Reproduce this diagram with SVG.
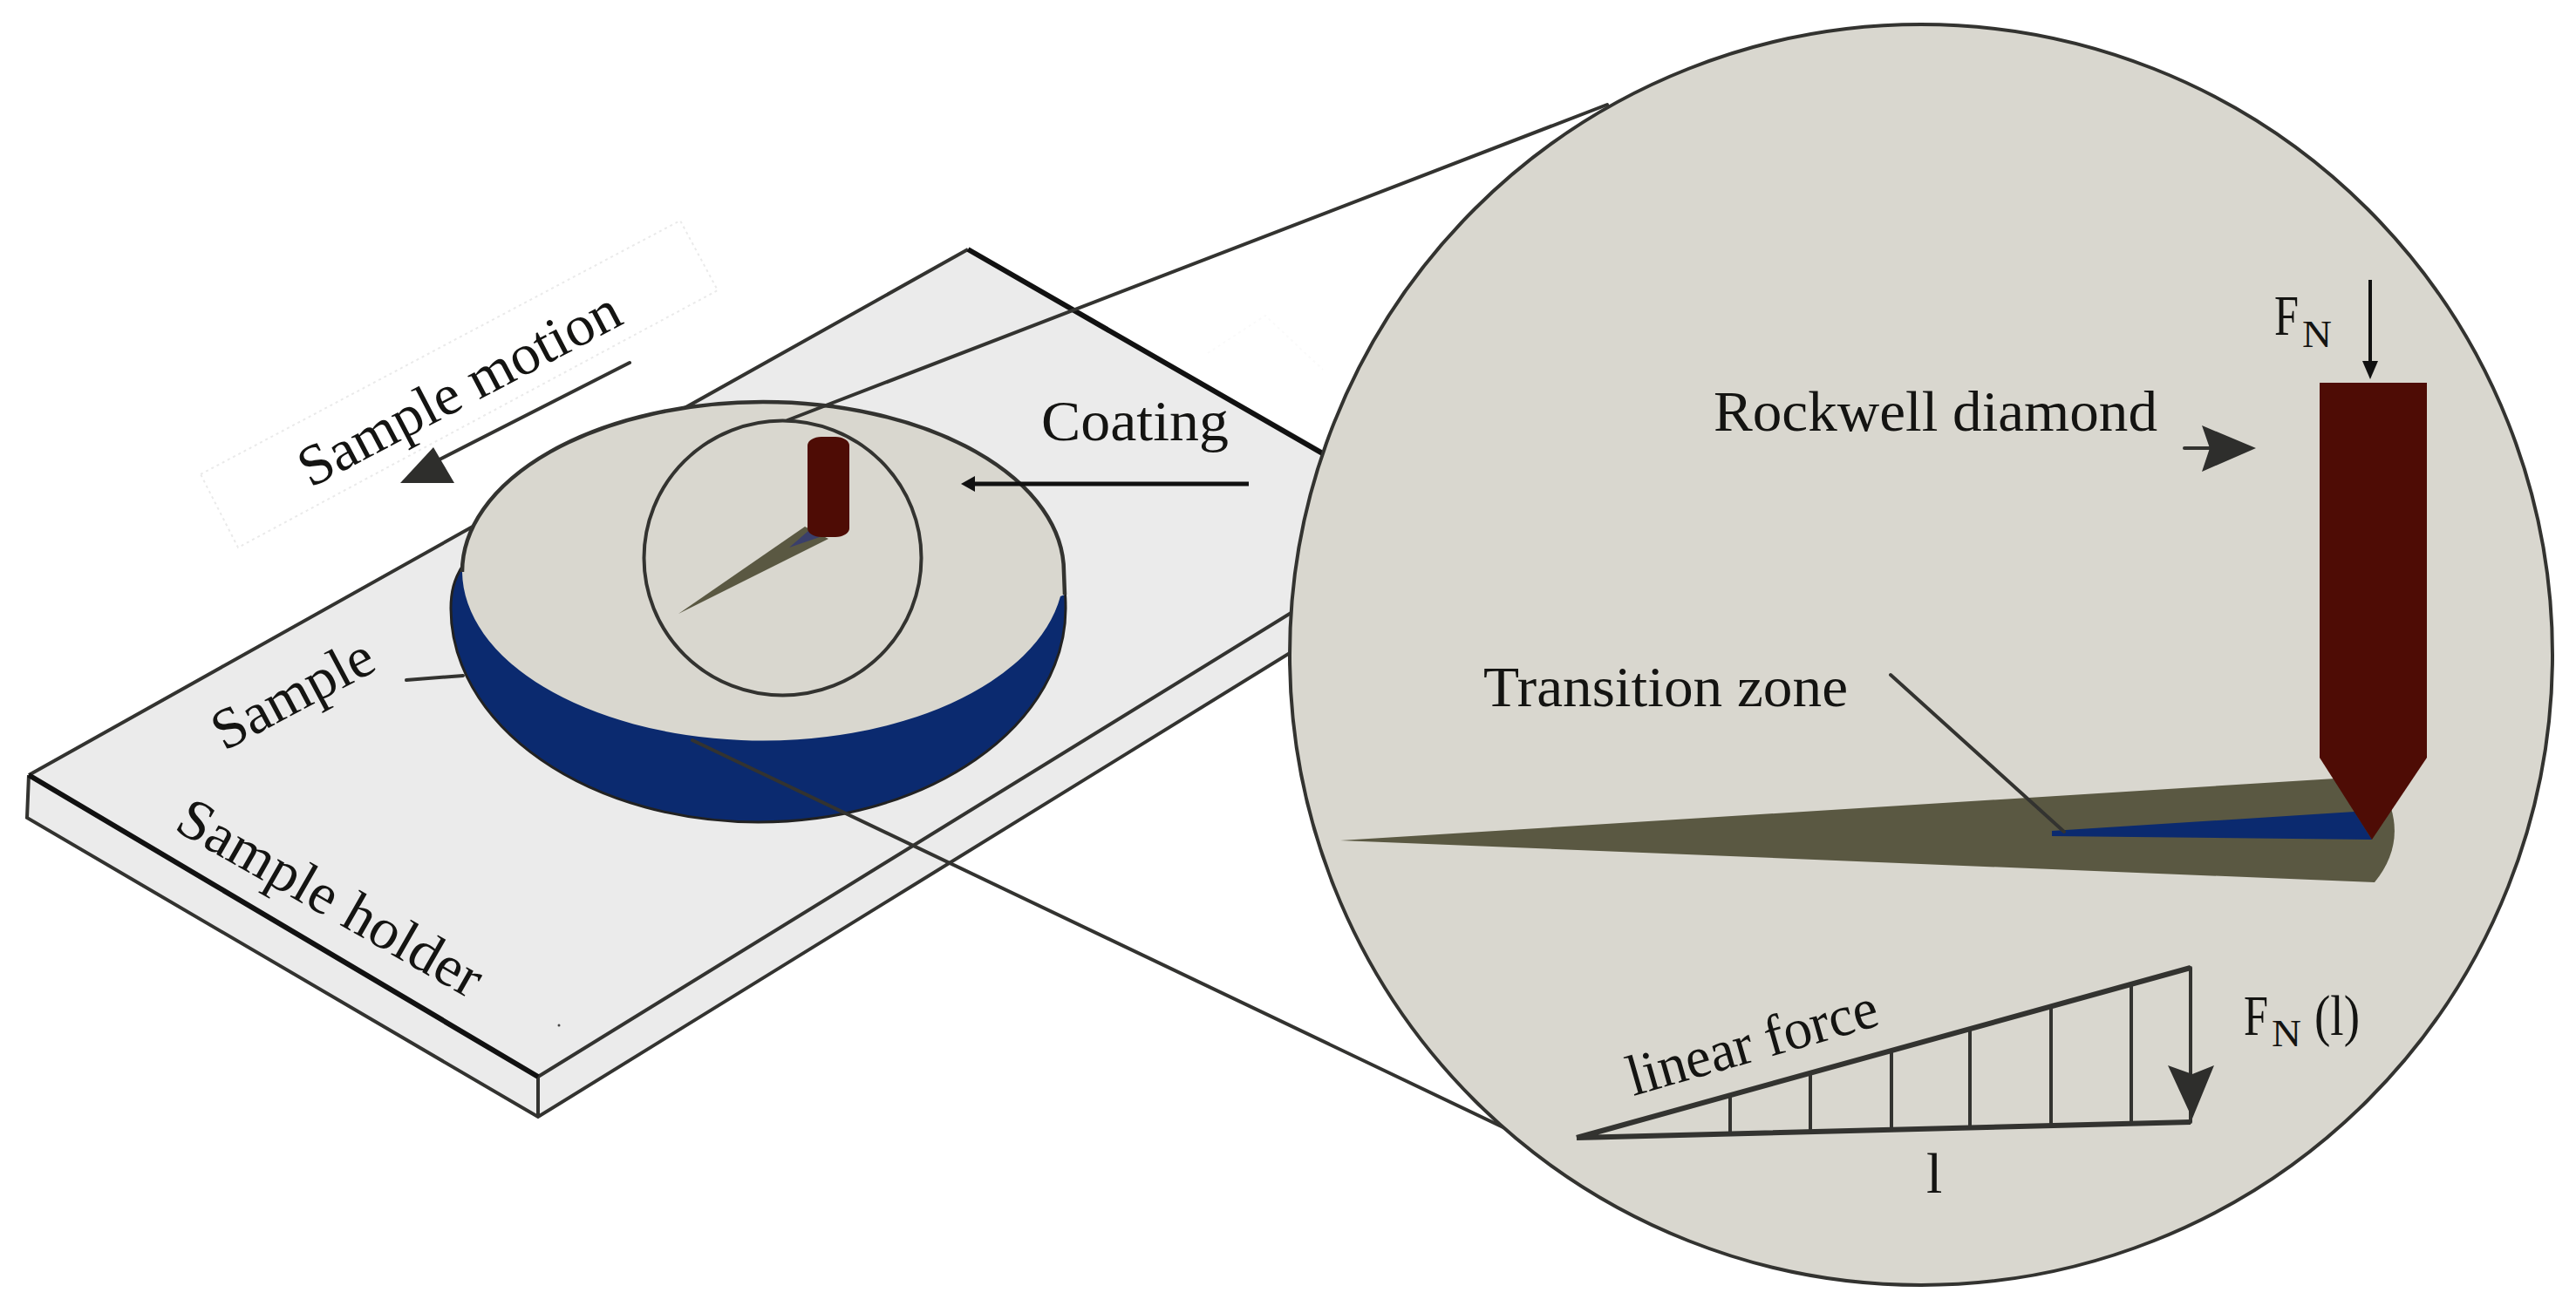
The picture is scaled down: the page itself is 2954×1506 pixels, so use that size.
<svg xmlns="http://www.w3.org/2000/svg" width="2954" height="1506" viewBox="0 0 2954 1506">
<style>
.t{font-family:"Liberation Serif","Times New Roman",serif;font-size:66px;fill:#141412}
.s{font-size:44px}
.l{fill:none;stroke:#333330;stroke-width:4;stroke-linecap:round}
.k{fill:none;stroke:#111;stroke-width:6}
.h{fill:#2e2e2c}
.d{fill:#d9d7cf}
.r{fill:#4e0c05}
.w{fill:#5a5842}
.b{fill:#0b2a6f}
.f{fill:none;stroke:#eaeaea;stroke-width:2;stroke-dasharray:3 4}
</style>
<rect width="2954" height="1506" fill="#fff"/>
<g id="faint-marks">
<polygon class="f" points="230,544 780,253 823,333 273,628"/>
<polyline class="f" style="stroke:#fafafa" points="1385,405 1451,362 1517,424"/>
</g>
<g id="sample-holder">
<polygon points="1110,286 1560,540 1560,654 617,1235 33,889" fill="#ebebeb"/>
<polygon points="33,889 617,1235 1560,654 1560,699 617,1281 31,938" fill="#ebebeb"/>
<path d="M33,889 L1110,286 M33,889 L31,938 L617,1281 L1560,699 M617,1235 L617,1281 M617,1235 L1560,654" fill="none" stroke="#333330" stroke-width="4"/>
<path class="k" d="M1110,286 L1560,545 M33,889 L617,1235" stroke-width="5"/>
<circle cx="641" cy="1176" r="1.5" fill="#444"/>
</g>
<g id="sample">
<path class="b" d="M531,648 C520,665 517,680 517,698 A352.5,245 0 0 0 1222,698 C1222,690 1222,684 1221,678 L1100,700 Z" stroke="#222" stroke-width="3"/>
<path class="d" d="M530,656 A345,195 0 0 1 1220,656 L1221,682 L1216,684 A345,195 0 0 1 530,656 Z"/>
<path d="M530,656 A345,195 0 0 1 1220,656 L1221,682" fill="none" stroke="#333330" stroke-width="4.5"/>
</g>
<g id="detail-mark">
<ellipse cx="897.500" cy="640" rx="159" ry="157.500" fill="none" stroke="#333330" stroke-width="4"/>
<polygon class="w" points="778,704 923,604 950,618"/>
<polygon points="905,628 928,608 940,616" fill="#3a3f6b"/>
<rect class="r" x="926" y="501" width="48" height="115" rx="16" ry="10"/>
</g>
<g id="connectors">
<path class="l" d="M903,482 L1843,120"/>
<path class="l" d="M794,849 L1730,1296"/>
<path class="l" d="M466,780 L531,775"/>
<path class="l" d="M722,416 L500,529"/>
<polygon class="h" points="459,554 521,554 497,513"/>
<path class="l" style="stroke:#111;stroke-width:5;stroke-linecap:butt" d="M1432,555 L1115,555"/>
<polygon points="1102,555 1118,546 1118,564" fill="#111"/>
</g>
<g id="detail-circle">
<ellipse class="d" cx="2203" cy="751" rx="724" ry="723" stroke="#333330" stroke-width="4"/>
</g>
<g id="scratch">
<path class="w" d="M1537,964 L2678,893 L2730,900 Q2765,960 2723,1012 Z"/>
<polygon class="b" points="2353,953 2700,931 2720,963 2353,959"/>
</g>
<g id="rockwell-diamond">
<polygon class="r" points="2660,439 2783,439 2783,869 2720,963 2660,869"/>
</g>
<g id="force-diagram">
<path d="M1808,1305 L2512,1110 M1808,1305 L2512,1287" fill="none" stroke="#333330" stroke-width="6"/>
<path class="l" d="M1984,1256 V1300 M2076,1231 V1298 M2169,1205 V1296 M2259,1180 V1293 M2352,1154 V1291 M2444,1129 V1289 M2512,1110 V1287"/>
<polygon class="h" points="2486,1222 2514,1232 2539,1222 2514,1283"/>
</g>
<g id="detail-connectors">
<path class="l" d="M2168,774 L2367,954"/>
<path class="l" d="M2505,514 L2535,514"/>
<polygon class="h" points="2525,488 2587,514 2525,541 2534,514"/>
<path d="M2718,321 V420" fill="none" stroke="#111" stroke-width="4"/>
<polygon points="2718,435 2709,414 2727,414" fill="#111"/>
</g>
<g id="labels">
<text class="t" x="0" y="0" transform="translate(356,560) rotate(-27.7)" textLength="408" lengthAdjust="spacingAndGlyphs">Sample motion</text>
<text class="t" x="0" y="0" transform="translate(257,862) rotate(-28)" textLength="201" lengthAdjust="spacingAndGlyphs">Sample</text>
<text class="t" x="0" y="0" transform="translate(198,951) rotate(29.8)" textLength="392" lengthAdjust="spacingAndGlyphs">Sample holder</text>
<text class="t" x="1194" y="505" textLength="215" lengthAdjust="spacingAndGlyphs">Coating</text>
<text class="t" x="1965" y="494" textLength="509" lengthAdjust="spacingAndGlyphs">Rockwell diamond</text>
<text class="t" x="1701" y="810" textLength="418" lengthAdjust="spacingAndGlyphs">Transition zone</text>
<text class="t" x="2608" y="384" textLength="28" lengthAdjust="spacingAndGlyphs">F</text>
<text class="t s" x="2640" y="398" textLength="34" lengthAdjust="spacingAndGlyphs">N</text>
<text class="t" x="0" y="0" transform="translate(1873,1257) rotate(-16)" textLength="296" lengthAdjust="spacingAndGlyphs">linear force</text>
<text class="t" x="2573" y="1187" textLength="28" lengthAdjust="spacingAndGlyphs">F</text>
<text class="t s" x="2605" y="1200" textLength="34" lengthAdjust="spacingAndGlyphs">N</text>
<text class="t" x="2654" y="1187" textLength="52" lengthAdjust="spacingAndGlyphs">(l)</text>
<text class="t" x="2209" y="1368">l</text>
</g>
</svg>
